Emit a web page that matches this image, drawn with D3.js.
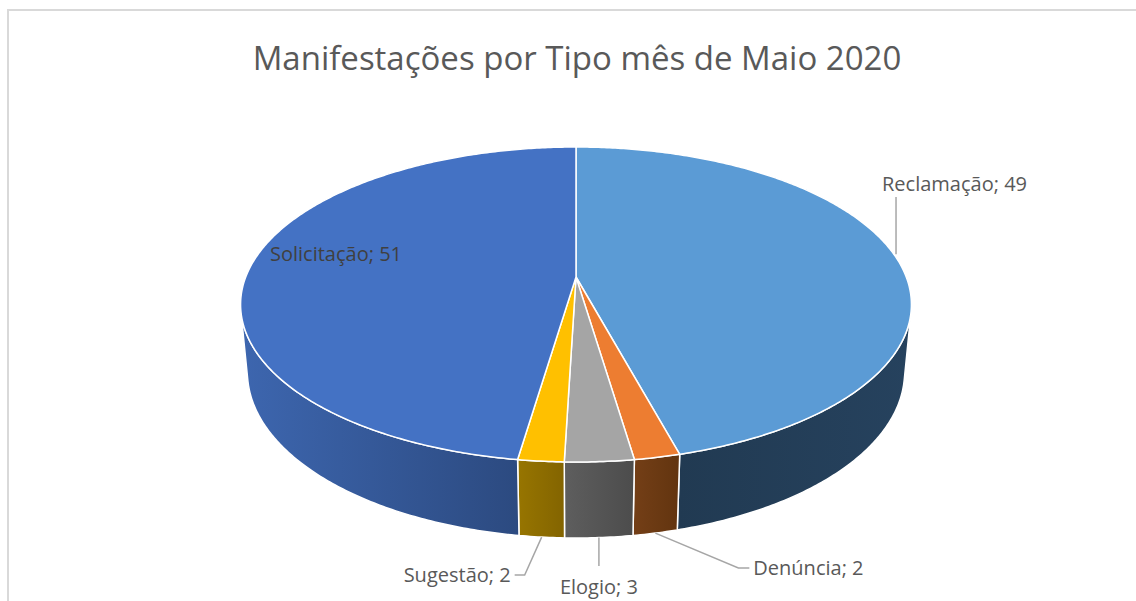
<!DOCTYPE html>
<html>
<head>
<meta charset="utf-8">
<script src="https://cdn.jsdelivr.net/npm/d3@7"></script>
<style>
  body { margin: 0; background: #fff; }
  text { font-family: "Open Sans", sans-serif; }
</style>
</head>
<body>
<div id="chart"></div>
<script>
// data
const categories = ["Reclamação", "Denúncia", "Elogio", "Sugestão", "Solicitação"];
const values = [49, 2, 3, 2, 51];
const topColors = ["#5B9BD5", "#ED7D31", "#A5A5A5", "#FFC000", "#4472C4"];
const sideColors = [
    ["#213A52", "#26425E"],
    ["#743F17", "#62340F"],
    ["#5E5E5E", "#4C4C4C"],
    ["#977500", "#836400"],
    ["#3D66AF", "#2C4A80"]
];
const title = "Manifestações por Tipo mês de Maio 2020";

const width = 1136, height = 601;

const svg = d3.select("#chart").append("svg")
    .attr("width", width)
    .attr("height", height);

// chart frame
svg.append("path")
    .attr("d", `M8,${height} V10 H${width}`)
    .attr("fill", "none")
    .attr("stroke", "#d9d9d9")
    .attr("stroke-width", 2);

svg.append("text")
    .attr("x", 577)
    .attr("y", 70)
    .attr("text-anchor", "middle")
    .attr("font-size", "33px")
    .attr("fill", "#595959")
    .text(title);

// 3d camera
const cx = 576, cy = 277;
const elev = 27 * Math.PI / 180;
const ce = Math.cos(elev), se = Math.sin(elev);
const dist = 5.105;
const Fx = 1686, Fy = 1717;
const thick = 0.227;

function project(a, r, z) {
    let dx = r * Math.sin(a);
    let dy = -r * Math.cos(a) - dist * ce;
    let dz = z - dist * se;
    let depth = -dy * ce - dz * se;
    let yc = -dy * se + dz * ce;
    return [cx + Fx * dx / depth, cy - Fy * yc / depth];
}

function arcPoints(a0, a1, z) {
    let n = Math.max(2, Math.ceil(Math.abs(a1 - a0) / 0.01));
    return d3.range(n + 1).map(i => project(a0 + (a1 - a0) * i / n, 1, z));
}

const pie = d3.pie().sort(null).value(d => d.value);
const slices = pie(categories.map((c, i) => ({name: c, value: values[i], i: i})));

// visible part of the outer wall
const limit = Math.acos(1 / (dist * ce));
const aMin = Math.PI - limit, aMax = Math.PI + limit;

const defs = svg.append("defs");
const line = d3.line();

// walls
slices.forEach(s => {
    let a0 = Math.max(s.startAngle, aMin), a1 = Math.min(s.endAngle, aMax);
    if (a1 <= a0) return;
    let topPts = arcPoints(a0, a1, 0);
    let botPts = arcPoints(a1, a0, -thick);
    let xs = topPts.concat(botPts).map(p => p[0]);
    let gid = "side" + s.data.i;
    let g = defs.append("linearGradient")
        .attr("id", gid)
        .attr("gradientUnits", "userSpaceOnUse")
        .attr("x1", d3.min(xs)).attr("x2", d3.max(xs))
        .attr("y1", 0).attr("y2", 0);
    g.append("stop").attr("offset", 0).attr("stop-color", sideColors[s.data.i][0]);
    g.append("stop").attr("offset", 1).attr("stop-color", sideColors[s.data.i][1]);

    svg.append("path")
        .attr("class", "wall")
        .attr("d", line(topPts.concat(botPts)) + "Z")
        .attr("fill", `url(#${gid})`)
        .attr("stroke", "#fff")
        .attr("stroke-width", 1.5)
        .attr("stroke-linejoin", "round");
});

// top faces
svg.selectAll(".slice")
    .data(slices)
    .join("path")
    .attr("class", "slice")
    .attr("d", s => line([project(0, 0, 0)].concat(arcPoints(s.startAngle, s.endAngle, 0))) + "Z")
    .attr("fill", s => topColors[s.data.i])
    .attr("stroke", "#fff")
    .attr("stroke-width", 1.5)
    .attr("stroke-linejoin", "round");

// labels
const labelColor = "#595959";
const leaderColor = "#a6a6a6";
const mid = s => (s.startAngle + s.endAngle) / 2;

function label(x, y, anchor, txt, fill) {
    svg.append("text")
        .attr("x", x).attr("y", y)
        .attr("text-anchor", anchor)
        .attr("font-size", "20px")
        .attr("fill", fill || labelColor)
        .text(txt);
}
function leader(pts) {
    svg.append("path")
        .attr("d", line(pts))
        .attr("fill", "none")
        .attr("stroke", leaderColor)
        .attr("stroke-width", 1.5);
}
const txt = s => `${s.data.name}; ${s.data.value}`;

// Reclamação: from top edge up
let p = project(mid(slices[0]), 1, 0);
leader([[p[0], p[1] - 3], [p[0], 197]]);
label(p[0] - 14, 191, "start", txt(slices[0]));

// Denúncia
p = project(mid(slices[1]), 1, -thick);
leader([p, [p[0] + 83, 568], [p[0] + 94, 568]]);
label(p[0] + 98, 575, "start", txt(slices[1]));

// Elogio
p = project(mid(slices[2]), 1, -thick);
leader([p, [p[0], 566]]);
label(p[0], 594, "middle", txt(slices[2]));

// Sugestão
p = project(mid(slices[3]), 1, -thick);
leader([p, [p[0] - 17, 575], [p[0] - 27, 575]]);
label(p[0] - 31, 582, "end", txt(slices[3]));

// Solicitação inside
label(270, 261, "start", txt(slices[4]), "#404040");
</script>
</body>
</html>
